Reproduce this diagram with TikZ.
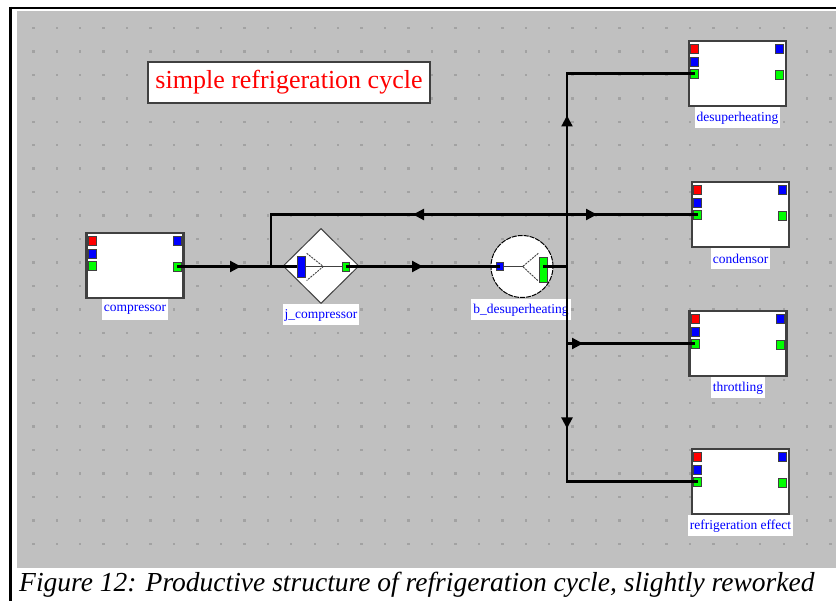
\documentclass[tikz,border=0pt]{standalone}
\usepackage{fontspec}
\setmainfont{Liberation Serif}
\usetikzlibrary{arrows.meta,decorations.markings,shapes.geometric}
\definecolor{canvas}{HTML}{C0C0C0}
\definecolor{griddot}{HTML}{A2A2A2}
\definecolor{edge}{HTML}{404040}
\definecolor{pred}{HTML}{FF0000}
\definecolor{pblue}{HTML}{0000FF}
\definecolor{pgreen}{HTML}{00FF00}
\tikzset{
  block/.style={rectangle, draw=edge, line width=2.2pt, fill=white,
    minimum width=97pt, minimum height=65pt, inner sep=0pt},
  port/.style={rectangle, draw=edge, line width=0.9pt,
    minimum width=8pt, minimum height=9pt, inner sep=0pt},
  lbl/.style={fill=white, text=pblue, font=\fontsize{13.5}{14}\selectfont,
    inner xsep=2pt, inner ysep=0pt, minimum height=21pt},
  link/.style={line width=2.2pt},
  flow/.style={link, postaction={decorate}, decoration={markings,
    mark=at position #1 with {\arrow{Triangle[length=11pt,width=11pt]}}}},
  guide/.style={line width=0.9pt, draw=edge},
  chevron/.style={line width=0.9pt, draw=edge, dash pattern=on 2pt off 1pt},
  pics/unit/.style={code={
    \node[block] (-box) at (0,0) {};
    \node[port, fill=pred]   (-r)   at (-43,-25) {};
    \node[port, fill=pblue]  (-b)   at (-43,-12) {};
    \node[port, fill=pgreen] (-in)  at (-43,0) {};
    \node[port, fill=pblue]  (-rb)  at (42,-25) {};
    \node[port, fill=pgreen] (-out) at (42,1) {};
    \node[lbl] (-lbl) at (0,44.5) {#1};
  }},
}
\begin{document}
\begin{tikzpicture}[x=1pt,y=-1pt]
\useasboundingbox (0,0) rectangle (836,601);
% frame and canvas
\fill[white] (0,0) rectangle (836,601);
\fill[canvas] (17,11) rectangle (836,568);
\draw[line width=2.5pt] (9,8) -- (836,8);
\draw[line width=2.8pt] (10.5,6.8) -- (10.5,601);
% snap grid
\foreach \i in {0,...,34}{\foreach \j in {0,...,22}{
  \fill[griddot] ({33.3+23.45*\i-1.2},{28+23.45*\j-1.2}) rectangle ++(2.4,2.4);
}}
% title
\node[rectangle, draw=edge, line width=2.2pt, fill=white, minimum width=282pt,
  minimum height=41pt, text=pred, font=\fontsize{26}{28}\selectfont] (title)
  at (289,82.5) {simple refrigeration cycle};
% units
\pic (comp)  at (135,265.5)  {unit={compressor}};
\pic (desup) at (737.5,73.5) {unit={desuperheating}};
\pic (cond)  at (740.5,214.5) {unit={condensor}};
\pic (thr)   at (738,343.5)  {unit={throttling}};
\pic (refr)  at (740.5,481.5) {unit={refrigeration effect}};
% junction j_compressor
\node[diamond, draw=edge, line width=1pt, fill=white, minimum width=76pt,
  minimum height=75pt, inner sep=0pt] (jc) at (321,266) {};
\node[port, fill=pblue, minimum width=8pt, minimum height=21pt] (jc-in) at (301,266.5) {};
\node[port, fill=pgreen, minimum width=7pt] (jc-out) at (345.5,266.5) {};
\draw[guide] (jc-in.east) -- (jc-out.west);
\draw[chevron] (306.7,253.3) -- (323.3,266.5) -- (306.7,280.5);
\node[lbl] (jc-lbl) at (321,315) {j\_compressor};
% branch b_desuperheating
\node[circle, draw=black, line width=1pt, dash pattern=on 5pt off 1pt,
  fill=white, minimum size=62pt, inner sep=0pt] (bs) at (522,266.5) {};
\node[port, fill=pblue, minimum width=7pt, minimum height=8pt] (bs-in) at (499.5,266.5) {};
\node[port, fill=pgreen, minimum width=8pt, minimum height=25pt] (bs-out) at (543,269.5) {};
\draw[guide] (bs-in.east) -- (522.7,266.5);
\draw[chevron] (538.3,253.3) -- (522.7,266.5) -- (538.3,281);
\node[lbl] (bs-lbl) at (521,310) {b\_desuperheating};
% connectors
\coordinate (jbr) at (271,266.5);
\coordinate (busx) at (567,266.5);
\draw[flow=64pt]  (comp-out.center) -- (jc-in.west);
\draw[flow=154pt] (busx |- cond-in.center) -| (jbr);
\draw[flow=77.5pt] (jc-out.center) -- (bs-in.center);
\draw[link] (bs-out.center |- busx) -- (busx);
\draw[flow=151pt] (busx) |- (desup-in.center);
\draw[flow=30pt]  (busx |- cond-in.center) -- (cond-in.center);
\draw[flow=16pt]  (busx |- thr-in.center) -- (thr-in.center);
\draw[flow=162pt] (busx) |- (refr-in.center);
% caption
\node[anchor=base west, inner sep=0pt, font=\fontsize{27.5}{30}\selectfont\itshape]
  (cap) at (19,591) {Figure 12: Productive structure of refrigeration cycle, slightly reworked};
\end{tikzpicture}
\end{document}
